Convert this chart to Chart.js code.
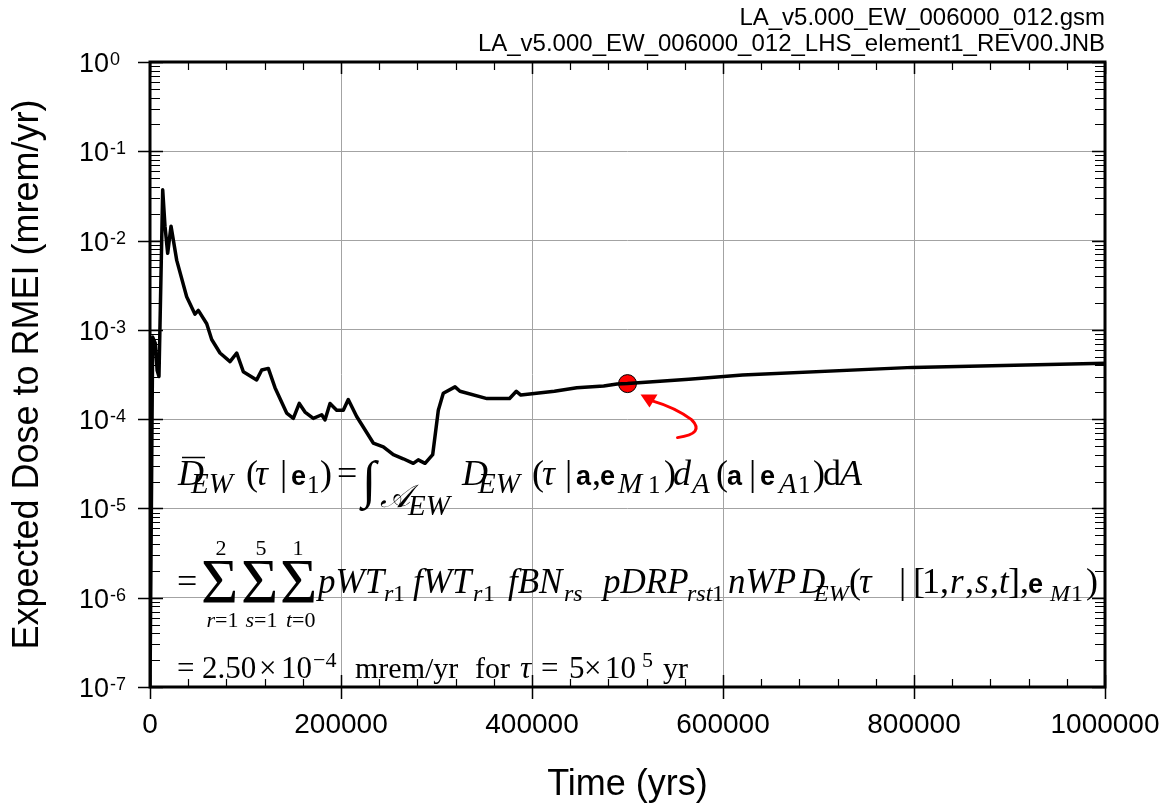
<!DOCTYPE html>
<html lang="en">
<head>
  <meta charset="UTF-8">
  <title>Expected Dose to RMEI</title>
  <script src="https://cdn.jsdelivr.net/npm/chart.js"></script>
  <style>
    html, body {
      margin: 0;
      padding: 0;
      background: #fff;
    }
    canvas { display: block; }
  </style>
</head>
<body>
<canvas id="doseChart" width="1164" height="807"></canvas>
<script>
  // expected dose history: time (yrs) and dose (mrem/yr)
  const years = [
    0, 2800, 5500, 7500, 9400, 13300, 15700, 18500, 22000, 28000,
    38400, 47100, 50600, 59400, 64600, 73300, 83800, 90800, 97700, 111700,
    117000, 123900, 130900, 143100, 150100, 156300, 162300, 171000, 179800, 183200,
    188500, 195500, 202400, 207600, 216400, 233800, 244300, 254800, 265200, 275700,
    280900, 288000, 296000, 301900, 307100, 319400, 324600, 352900, 376500, 383600,
    388300, 423500, 446900, 475100, 489000, 500000, 564200, 620500, 798700, 1000000
  ];
  const dose = [
    1e-7, 8.3e-4, 7.1e-4, 3.5e-4, 3.0e-4, 3.7e-2, 1.45e-2, 7.2e-3, 1.45e-2, 6.0e-3,
    2.35e-3, 1.5e-3, 1.65e-3, 1.17e-3, 7.8e-4, 5.5e-4, 4.4e-4, 5.5e-4, 3.4e-4, 2.75e-4,
    3.55e-4, 3.7e-4, 2.25e-4, 1.17e-4, 1.02e-4, 1.5e-4, 1.2e-4, 1.02e-4, 1.12e-4, 9.8e-5,
    1.5e-4, 1.26e-4, 1.26e-4, 1.66e-4, 1.07e-4, 5.4e-5, 4.9e-5, 4.0e-5, 3.6e-5, 3.2e-5,
    3.5e-5, 3.2e-5, 4.0e-5, 1.26e-4, 1.95e-4, 2.3e-4, 2.05e-4, 1.7e-4, 1.7e-4, 2.05e-4,
    1.86e-4, 2.05e-4, 2.25e-4, 2.35e-4, 2.48e-4, 2.5e-4, 2.8e-4, 3.13e-4, 3.8e-4, 4.23e-4
  ];
  // highlighted point: tau = 5e5 yr
  const markYear = 500000;
  const markDose = 2.5e-4;

  const xTicks = [0, 200000, 400000, 600000, 800000, 1000000];
  const yExponents = [0, -1, -2, -3, -4, -5, -6, -7];
  const headerLines = ['LA_v5.000_EW_006000_012.gsm', 'LA_v5.000_EW_006000_012_LHS_element1_REV00.JNB'];
  const xTitle = 'Time (yrs)';
  const yTitle = 'Expected Dose to RMEI (mrem/yr)';

  const SANS = '"Liberation Sans", Arial, sans-serif';
  const SERIF = '"Liberation Serif", "Times New Roman", serif';
  const F = {
    I: 'italic 36px ' + SERIF,
    R: '36px ' + SERIF,
    B: 'bold 27px ' + SANS,
    S: 'italic 29px ' + SERIF,
    s: '25px ' + SERIF,
    I2: 'italic 35px ' + SERIF,
    S2: 'italic 24px ' + SERIF,
    s2: '24px ' + SERIF,
    INT: '52px ' + SERIF,
    SCR: 'italic 32px "DejaVu Serif", ' + SERIF,
    SIG: '64px ' + SERIF,
    LI: 'italic 22px ' + SERIF,
    LR: '22px ' + SERIF,
    R3: '31px ' + SERIF,
    M3: '30px ' + SERIF,
    I3: 'italic 31px ' + SERIF,
    E3: '22px ' + SERIF
  };

  // formula pieces: [text, font, x, dy from the line baseline]
  const eqLine1 = [
    ['D', 'I', 178, 0], ['EW', 'S', 191, 8], ['(', 'R', 246, 0], ['τ', 'I', 255, 0],
    ['|', 'R', 280, 0], ['e', 'B', 291, 0], ['1', 's', 307, 8], [')', 'R', 320, 0],
    ['=', 'R', 337, 0], ['∫', 'INT', 362, 12], ['𝒜', 'SCR', 380, 22], ['EW', 'S', 408, 30],
    ['D', 'I', 462, 0], ['EW', 'S', 478, 8], ['(', 'R', 532, 0], ['τ', 'I', 542, 0],
    ['|', 'R', 565, 0], ['a', 'B', 576, 0], [',', 'R', 592, 0], ['e', 'B', 600, 0],
    ['M', 'S', 618, 8], ['1', 's', 648, 8], [')', 'R', 664, 0], ['d', 'I', 673, 0],
    ['A', 'S', 692, 8], ['(', 'R', 716, 0], ['a', 'B', 727, 0], ['|', 'R', 749, 0],
    ['e', 'B', 760, 0], ['A', 'S', 779, 8], ['1', 's', 798, 8], [')', 'R', 813, 0],
    ['d', 'R', 823, 0], ['A', 'I', 840, 0]
  ];
  const eqLine2 = [
    ['=', 'R', 177, 0],
    ['Σ', 'SIG', 201, 10], ['Σ', 'SIG', 241, 10], ['Σ', 'SIG', 280, 10],
    ['pWT', 'I2', 318, 0], ['r', 'S2', 384, 8], ['1', 's2', 393, 8],
    ['fWT', 'I2', 413, 0], ['r', 'S2', 473, 8], ['1', 's2', 483, 8],
    ['fBN', 'I2', 508, 0], ['rs', 'S2', 564, 8],
    ['pDRP', 'I2', 603, 0], ['rst', 'S2', 687, 8], ['1', 's2', 712, 8],
    ['nWP', 'I2', 728, 0],
    ['D', 'I2', 800, 0], ['EW', 'S2', 814, 8], ['(', 'R', 849, 0], ['τ', 'I2', 859, 0],
    ['|', 'R', 899, 0], ['[', 'R', 913, 0], ['1', 'R', 922, 0], [',', 'R', 940, 0],
    ['r', 'I2', 950, 0], [',', 'R', 965, 0], ['s', 'I2', 975, 0], [',', 'R', 990, 0],
    ['t', 'I2', 999, 0], [']', 'R', 1008, 0], [',', 'R', 1020, 0], ['e', 'B', 1028, 0],
    ['M', 'S2', 1050, 8], ['1', 's2', 1071, 8], [')', 'R', 1086, 0]
  ];
  const sumUpper = [['2', 221], ['5', 261], ['1', 298]];
  const sumLower = [['r', 221], ['s', 260], ['t', 298]];
  const eqLine3 = [
    ['=', 'R3', 177, 0], ['2.50', 'R3', 202, 0], ['×', 'R3', 259, 0], ['10', 'R3', 281, 0],
    ['−4', 'E3', 313, -11], ['mrem/yr', 'M3', 355, 0], ['for', 'M3', 475, 0],
    ['τ', 'I3', 520, 0], ['=', 'R3', 541, 0], ['5', 'R3', 569, 0], ['×', 'R3', 584, 0],
    ['10', 'R3', 605, 0], ['5', 'E3', 642, -11], ['yr', 'M3', 663, 0]
  ];

  function drawPieces(ctx, pieces, baseY) {
    ctx.textAlign = 'left';
    ctx.textBaseline = 'alphabetic';
    for (const [t, f, x, dy] of pieces) {
      ctx.font = F[f];
      ctx.fillText(t, x, baseY + dy);
    }
  }

  const decorations = {
    id: 'decorations',
    afterDatasetsDraw(chart) {
      const { ctx, chartArea: a, scales: { x, y } } = chart;
      ctx.save();
      ctx.fillStyle = '#000';
      ctx.strokeStyle = '#000';

      // minor ticks on left and right axes (inside)
      ctx.lineWidth = 1.2;
      ctx.beginPath();
      for (let e = -7; e < 0; e++) {
        for (let m = 2; m <= 9; m++) {
          const py = Math.round(y.getPixelForValue(m * Math.pow(10, e))) + 0.5;
          ctx.moveTo(a.left, py); ctx.lineTo(a.left + 10, py);
          ctx.moveTo(a.right, py); ctx.lineTo(a.right - 10, py);
        }
      }
      // minor ticks on bottom and top axes
      for (let v = 40000; v < 1000000; v += 40000) {
        if (v % 200000 === 0) continue;
        const px = Math.round(x.getPixelForValue(v)) + 0.5;
        ctx.moveTo(px, a.bottom); ctx.lineTo(px, a.bottom - 8);
        ctx.moveTo(px, a.top); ctx.lineTo(px, a.top + 8);
      }
      ctx.stroke();

      // major ticks
      ctx.lineWidth = 1.5;
      ctx.beginPath();
      for (const e of yExponents) {
        const py = Math.round(y.getPixelForValue(Math.pow(10, e))) + 0.5;
        ctx.moveTo(a.left - 12, py); ctx.lineTo(a.left + 13, py);
        ctx.moveTo(a.right, py); ctx.lineTo(a.right - 13, py);
      }
      for (const v of xTicks) {
        const px = Math.round(x.getPixelForValue(v)) + 0.5;
        ctx.moveTo(px, a.bottom + 12); ctx.lineTo(px, a.bottom - 12);
        ctx.moveTo(px, a.top); ctx.lineTo(px, a.top + 12);
      }
      ctx.stroke();

      // frame
      ctx.lineWidth = 3;
      ctx.strokeRect(a.left, a.top, a.right - a.left, a.bottom - a.top);

      // tick labels
      ctx.textAlign = 'center';
      ctx.textBaseline = 'middle';
      ctx.font = '28px ' + SANS;
      for (const v of xTicks) {
        ctx.fillText(String(v), x.getPixelForValue(v), 725);
      }
      ctx.textAlign = 'left';
      ctx.textBaseline = 'alphabetic';
      for (const e of yExponents) {
        const py = y.getPixelForValue(Math.pow(10, e));
        ctx.font = '27px ' + SANS;
        ctx.fillText('10', 79, py + 10);
        const w = ctx.measureText('10').width;
        ctx.font = '18px ' + SANS;
        ctx.fillText(String(e), 79 + w + 1, py + 3);
      }

      // axis titles
      ctx.font = '36px ' + SANS;
      ctx.textAlign = 'center';
      ctx.textBaseline = 'middle';
      ctx.fillText(xTitle, (a.left + a.right) / 2, 785);
      ctx.save();
      ctx.translate(28, (a.top + a.bottom) / 2);
      ctx.rotate(-Math.PI / 2);
      ctx.fillText(yTitle, 0, 0);
      ctx.restore();

      // run identifiers
      ctx.font = '24px ' + SANS;
      ctx.textAlign = 'right';
      ctx.fillText(headerLines[0], a.right, 18);
      ctx.fillText(headerLines[1], a.right, 44);

      // formula block
      drawPieces(ctx, eqLine1, 485);
      ctx.lineWidth = 1.5;
      ctx.beginPath();
      ctx.moveTo(182, 457.5); ctx.lineTo(205, 457.5);
      ctx.stroke();
      drawPieces(ctx, eqLine2, 593);
      ctx.textAlign = 'center';
      ctx.font = F.LR;
      for (const [t, cx] of sumUpper) ctx.fillText(t, cx, 555);
      for (const [t, cx] of sumLower) {
        ctx.textAlign = 'right';
        ctx.font = F.LI;
        ctx.fillText(t, cx - 6, 627);
        ctx.textAlign = 'left';
        ctx.font = F.LR;
        ctx.fillText(t === 't' ? '=0' : '=1', cx - 6, 627);
      }
      drawPieces(ctx, eqLine3, 678);

      // red arrow pointing at the highlighted point
      const mx = x.getPixelForValue(markYear);
      const my = y.getPixelForValue(markDose);
      ctx.strokeStyle = '#ff0000';
      ctx.fillStyle = '#ff0000';
      ctx.lineWidth = 3;
      ctx.lineCap = 'round';
      ctx.beginPath();
      ctx.moveTo(mx + 50, my + 54);
      ctx.quadraticCurveTo(mx + 78, my + 50, mx + 64, my + 36);
      ctx.quadraticCurveTo(mx + 48, my + 24, mx + 24, my + 17);
      ctx.stroke();
      ctx.beginPath();
      ctx.moveTo(mx + 13, my + 11);
      ctx.lineTo(mx + 30, my + 11);
      ctx.lineTo(mx + 22, my + 24);
      ctx.closePath();
      ctx.fill();
      ctx.restore();
    }
  };

  new Chart(document.getElementById('doseChart'), {
    type: 'line',
    data: {
      datasets: [{
        data: years.map((t, i) => ({ x: t, y: dose[i] })),
        borderColor: '#000',
        borderWidth: 3.5,
        borderJoinStyle: 'round',
        pointRadius: 0,
        tension: 0,
        fill: false
      }, {
        data: [{ x: markYear, y: markDose }],
        showLine: false,
        pointRadius: 9,
        pointBackgroundColor: '#ff0000',
        pointBorderColor: '#000',
        pointBorderWidth: 1
      }]
    },
    options: {
      responsive: false,
      animation: false,
      events: [],
      layout: { padding: { top: 62, right: 59, bottom: 0, left: 0 } },
      plugins: { legend: { display: false }, tooltip: { enabled: false } },
      scales: {
        x: {
          type: 'linear',
          min: 0,
          max: 1000000,
          afterBuildTicks: s => { s.ticks = xTicks.map(v => ({ value: v })); },
          afterFit: s => { s.height = 120; },
          ticks: { display: false },
          grid: { color: '#a3a3a3', lineWidth: 1, drawTicks: false },
          border: { display: false }
        },
        y: {
          type: 'logarithmic',
          min: 1e-7,
          max: 1,
          afterBuildTicks: s => { s.ticks = yExponents.map(e => ({ value: Math.pow(10, e) })); },
          afterFit: s => { s.width = 150; },
          ticks: { display: false },
          grid: { color: '#a3a3a3', lineWidth: 1, drawTicks: false },
          border: { display: false }
        }
      }
    },
    plugins: [decorations]
  });
</script>
</body>
</html>
